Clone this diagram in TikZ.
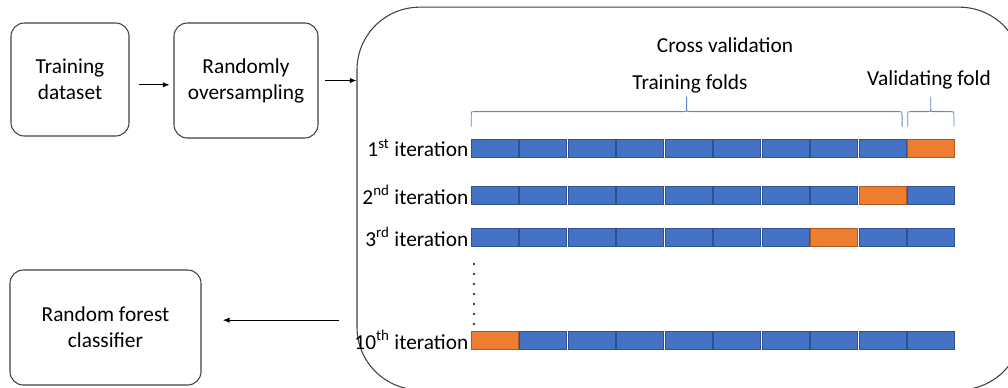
\documentclass[tikz,border=0pt]{standalone}
\usepackage{fontspec}
\setmainfont{Carlito}
\usetikzlibrary{arrows.meta,calc}

\definecolor{foldblue}{HTML}{4472C4}
\definecolor{foldedge}{HTML}{2F528F}
\definecolor{valorange}{HTML}{ED7D31}
\definecolor{valedge}{HTML}{AE5A21}
\definecolor{boxline}{HTML}{404040}
\definecolor{braceblue}{HTML}{5B86CF}

\tikzset{
  stage/.style={draw=boxline, line width=0.8pt, rounded corners=10pt, align=center,
    inner sep=0pt, font=\fontsize{16}{19.5}\selectfont},
  flow/.style={-{Latex[length=5pt,width=4pt]}, line width=0.6pt},
  fold/.style={line width=0.6pt, minimum width=35.6pt, minimum height=13.5pt,
    inner sep=0pt, anchor=west},
  caption/.style={font=\fontsize{16}{19.5}\selectfont, inner sep=0pt},
  brace line/.style={draw=braceblue, line width=0.6pt},
  dots line/.style={line width=1.6pt, line cap=round, dash pattern=on 0pt off 7.5pt},
}

% office style curly brace between two points on one level
\newcommand{\foldbrace}[2]{%
  \draw[brace line] let \p1=(#1), \p2=(#2), \p3=($(\p1)!.5!(\p2)$) in
    (\x1,\y1) -- (\x1,\y1+9pt) .. controls (\x1,\y1+11.25pt) .. (\x1+2.2pt,\y1+11.25pt)
    -- (\x3-2.2pt,\y1+11.25pt) .. controls (\x3,\y1+11.25pt) .. (\x3,\y1+13.5pt)
    -- (\x3,\y1+22.5pt) -- (\x3,\y1+13.5pt)
    .. controls (\x3,\y1+11.25pt) .. (\x3+2.2pt,\y1+11.25pt)
    -- (\x2-2.2pt,\y1+11.25pt) .. controls (\x2,\y1+11.25pt) .. (\x2,\y1+9pt) -- (\x2,\y1);
}

\begin{document}
\begin{tikzpicture}[x=0.75pt, y=-0.75pt]
  \path[use as bounding box, clip] (0,0) rectangle (1008,387);

  % pipeline boxes
  \node[stage, minimum width=88.5pt, minimum height=84.75pt] (train) at (70,79.5) {Training\\dataset};
  \node[stage, minimum width=108pt, minimum height=86.25pt] (oversample) at (246,80.5) {Randomly\\oversampling};
  \node[stage, minimum width=143.25pt, minimum height=86.25pt] (forest) at (105.5,327.5) {Random forest\\classifier};
  \node[draw=boxline, line width=0.8pt, rounded corners=47pt, minimum width=498.75pt,
    minimum height=287pt, inner sep=0pt] (cv) at (689.5,198.5) {};

  \node[caption] (cvtitle) at (725,45) {Cross validation};
  \node[caption] (trainlab) at (690,84) {Training folds};
  \node[caption] (vallab) at (929,80) {Validating fold};

  % folds, one row per iteration
  \foreach \row/\y/\val/\ord in {1/148/10/st, 2/195/9/nd, 3/237/8/rd, 10/340/1/th} {
    \foreach \k in {1,...,10} {
      \ifnum\k=\val
        \def\cellfill{valorange}\def\celledge{valedge}%
      \else
        \def\cellfill{foldblue}\def\celledge{foldedge}%
      \fi
      \node[fold, fill=\cellfill, draw=\celledge] (r\row-\k) at ({470.5+(\k-1)*48.5},\y) {};
    }
    \node[caption, anchor=east] (lab\row) at ([xshift=-1.5pt]r\row-1.west) {\row\textsuperscript{\ord} iteration};
  }

  \foldbrace{[xshift=0.5pt,yshift=9pt]r1-1.north west}{[xshift=-3.5pt,yshift=9pt]r1-9.north east}
  \foldbrace{[xshift=0.5pt,yshift=9pt]r1-10.north west}{[xshift=-1pt,yshift=9pt]r1-10.north east}

  \coordinate (dotstop) at (474,264);
  \coordinate (dotsbot) at (474,327);
  \draw[dots line] (dotstop) -- (dotsbot);

  % arrows
  \coordinate (trainout) at ([xshift=7pt,yshift=-4pt]train.east);
  \draw[flow] (trainout) -- ([xshift=-3pt]trainout -| oversample.west);
  \draw[flow] ([xshift=5pt]oversample.east) -- (oversample.east -| cv.west);
  \coordinate (cvout) at (forest.east -| cv.west);
  \draw[flow] ([xshift=-13pt,yshift=5.5pt]cvout) -- ([xshift=16pt,yshift=5.5pt]forest.east);
\end{tikzpicture}
\end{document}
